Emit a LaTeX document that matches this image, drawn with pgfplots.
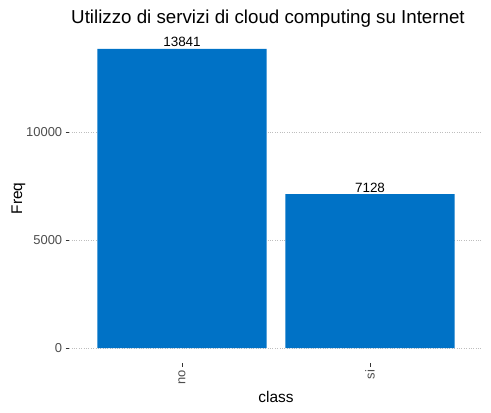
\documentclass[border=0pt]{standalone}
\usepackage{pgfplots}
\pgfplotsset{compat=1.18}
\usepackage{fontspec}
\setmainfont{Liberation Sans}
\definecolor{barblue}{RGB}{0,114,198}
\definecolor{ticklab}{RGB}{77,77,77}
\definecolor{tickcol}{RGB}{51,51,51}
\definecolor{gridcol}{RGB}{190,190,190}
\begin{document}
\begin{tikzpicture}[x=1bp,y=1bp]
\useasboundingbox (0,0) rectangle (491,412);
\begin{axis}[
  at={(69.2bp,49bp)}, anchor=south west,
  scale only axis, width=413.6bp, height=329bp,
  xmin=0.4, xmax=2.6, ymin=-692, ymax=14533,
  axis line style={draw=none},
  xtick pos=bottom, ytick pos=left,
  tick align=outside, major tick length=3.5bp,
  tick style={tickcol, line width=0.8pt},
  ymajorgrids, grid style={gridcol, dotted, line width=0.8pt},
  xtick={1,2}, xticklabels={no,si},
  xticklabel style={rotate=90, anchor=east, font=\fontsize{13}{15}\selectfont, text=ticklab},
  ytick={0,5000,10000}, scaled y ticks=false,
  yticklabel style={font=\fontsize{13}{15}\selectfont, text=ticklab, /pgf/number format/1000 sep={}},
  /pgf/number format/assume math mode=true,
  ybar, bar width=0.9,
  nodes near coords,
  nodes near coords style={font=\fontsize{13.5}{15}\selectfont, anchor=base, inner sep=0pt, yshift=2bp, text=black, /pgf/number format/1000 sep={}},
  clip=false,
]
\addplot[fill=barblue, draw=none] coordinates {(1,13841) (2,7128)};
\end{axis}
\node[anchor=base, font=\fontsize{18.8}{22}\selectfont] at (268,388) {Utilizzo di servizi di cloud computing su Internet};
\node[anchor=base, font=\fontsize{15.5}{18}\selectfont] at (276,10) {class};
\node[anchor=base, rotate=90, font=\fontsize{15.5}{18}\selectfont] at (22,213.5) {Freq};
\end{tikzpicture}
\end{document}
